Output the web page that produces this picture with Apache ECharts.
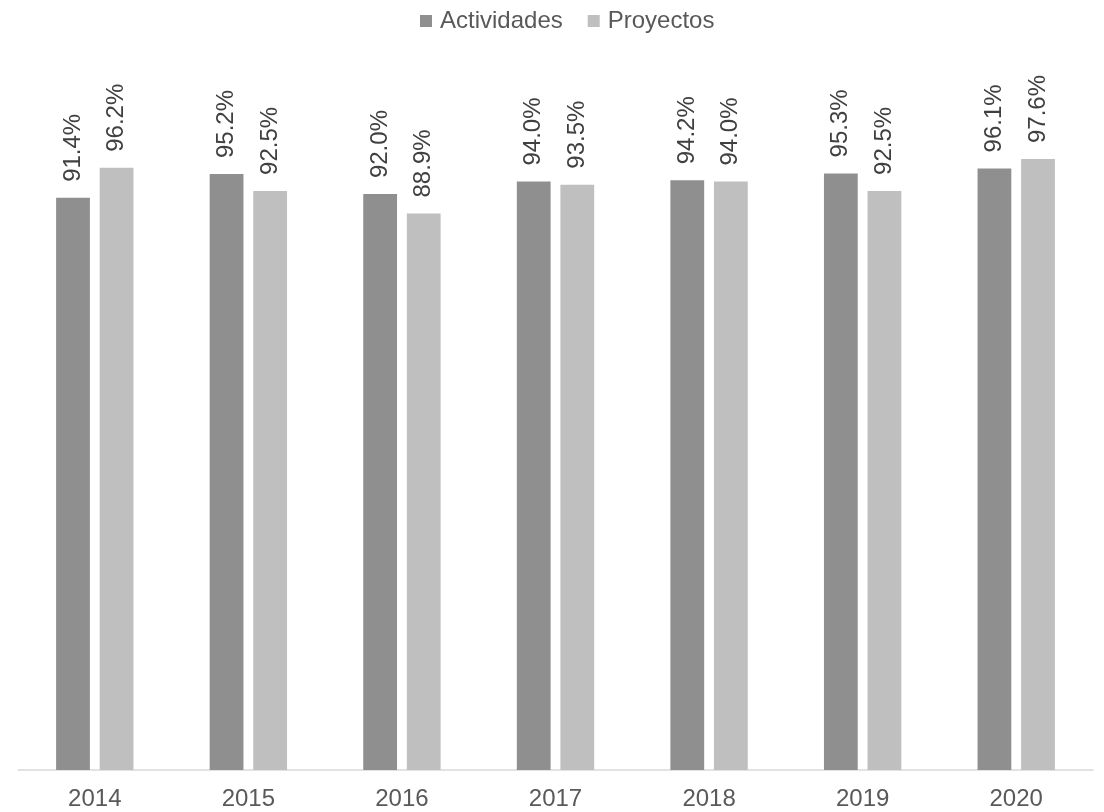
<!DOCTYPE html>
<html><head><meta charset="utf-8">
<script src="https://cdn.jsdelivr.net/npm/echarts@6/dist/echarts.min.js"></script>
<style>html,body{margin:0;padding:0;background:#fff}#c{width:1104px;height:812px}</style>
</head><body><div id="c"></div>
<script>
const categories = ['2014','2015','2016','2017','2018','2019','2020'];
const actividades = [91.4, 95.2, 92.0, 94.0, 94.2, 95.3, 96.1];
const proyectos = [96.2, 92.5, 88.9, 93.5, 94.0, 92.5, 97.6];
const FONT = '"Liberation Sans", Arial, sans-serif';
const chart = echarts.init(document.getElementById('c'));
const lbl = {
  show: true, position: 'top', rotate: 90, align: 'left', verticalAlign: 'middle',
  distance: 16, color: '#404040', fontSize: 24, fontFamily: FONT,
  formatter: p => p.value.toFixed(1) + '%'
};
chart.setOption({
  animation: false,
  legend: {
    top: 4, left: 415, itemWidth: 12, itemHeight: 12, itemGap: 25,
    icon: 'rect',
    textStyle: {color: '#595959', fontSize: 24, fontFamily: FONT, padding: [0, 0, 0, 3]}
  },
  grid: {left: 18, right: 11, top: 144, bottom: 42, containLabel: false},
  xAxis: {
    type: 'category', data: categories,
    axisLine: {lineStyle: {color: '#d9d9d9', width: 1.5}},
    axisTick: {show: false},
    axisLabel: {color: '#595959', fontSize: 24, fontFamily: FONT, margin: 17}
  },
  yAxis: {type: 'value', min: 0, max: 100, show: false, splitLine: {show: false}},
  series: [
    {name: 'Actividades', type: 'bar', data: actividades, barWidth: '22%', barGap: '29%',
     itemStyle: {color: '#8f8f8f'}, label: lbl},
    {name: 'Proyectos', type: 'bar', data: proyectos, barWidth: '22%',
     itemStyle: {color: '#bfbfbf'}, label: lbl}
  ]
});
</script></body></html>
